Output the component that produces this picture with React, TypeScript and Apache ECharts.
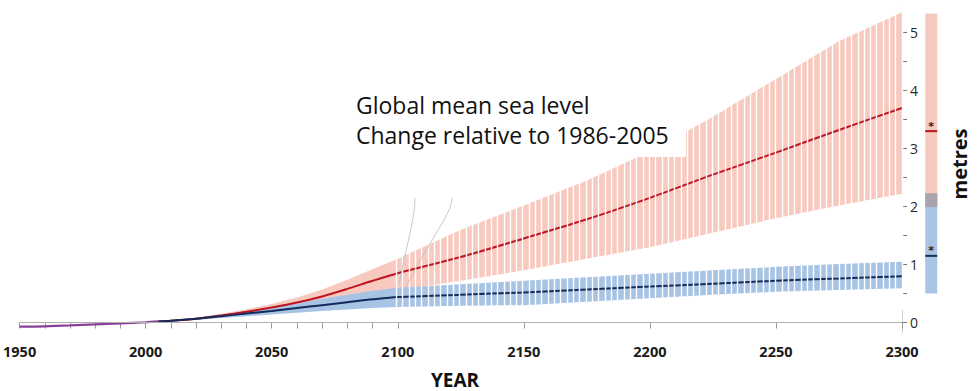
import React, { useEffect, useRef } from 'react';
import * as echarts from 'echarts';

// ---- data ----
const HIST_YEARS = [1950, 1960, 1970, 1980, 1990, 2000, 2005];
const HIST_VALUES = [-0.07, -0.065, -0.05, -0.03, -0.015, 0.005, 0.02];

const PROJ_YEARS = [2005, 2010, 2020, 2030, 2040, 2050, 2060, 2070, 2080, 2090, 2100, 2125, 2150, 2175, 2200, 2225, 2250, 2275, 2300];
const RCP85_MEDIAN = [0.02, 0.03, 0.065, 0.12, 0.185, 0.26, 0.345, 0.45, 0.58, 0.72, 0.85, 1.13, 1.45, 1.78, 2.15, 2.55, 2.93, 3.32, 3.7];
const RCP85_LOW = [0.01, 0.02, 0.05, 0.09, 0.13, 0.18, 0.23, 0.29, 0.36, 0.45, 0.55, 0.72, 0.9, 1.1, 1.3, 1.55, 1.8, 2.02, 2.22];
const RCP85_HIGH = [0.03, 0.045, 0.085, 0.15, 0.23, 0.32, 0.43, 0.57, 0.74, 0.92, 1.1, 1.6, 2.02, 2.45, 2.95, 3.55, 4.2, 4.85, 5.35];
const RCP26_MEDIAN = [0.02, 0.03, 0.065, 0.11, 0.155, 0.2, 0.25, 0.3, 0.35, 0.4, 0.44, 0.48, 0.52, 0.57, 0.62, 0.67, 0.72, 0.76, 0.8];
const RCP26_LOW = [0.01, 0.02, 0.045, 0.08, 0.11, 0.14, 0.17, 0.2, 0.225, 0.25, 0.27, 0.29, 0.3, 0.36, 0.42, 0.48, 0.53, 0.56, 0.59];
const RCP26_HIGH = [0.025, 0.04, 0.085, 0.14, 0.2, 0.26, 0.33, 0.41, 0.48, 0.55, 0.6, 0.66, 0.72, 0.78, 0.84, 0.9, 0.96, 1.01, 1.05];

// 2300 ranges shown in the side bar
const RCP26_RANGE_2300 = [0.5, 2.23];
const RCP26_MEDIAN_2300 = 1.15;
const RCP85_RANGE_2300 = [1.99, 5.33];
const RCP85_MEDIAN_2300 = 3.3;

// ticks / labels
const X_TICKS = [1950, 1960, 1970, 1980, 1990, 2000, 2010, 2020, 2030, 2040, 2050, 2060, 2070, 2080, 2090, 2100, 2150, 2200, 2250, 2300];
const X_LABELS = [1950, 2000, 2050, 2100, 2150, 2200, 2250, 2300];
const Y_TICKS = [0, 0.5, 1, 1.5, 2, 2.5, 3, 3.5, 4, 4.5, 5];
const Y_LABELS = [0, 1, 2, 3, 4, 5];

// ---- styling / layout constants ----
const RED_BAND = '#f8c9bf';
const BLUE_BAND = '#a8c4e5';
const OVERLAP = '#a9a3ae';
const RED_LINE = '#bd1420';
const BLUE_LINE = '#15295a';
const PURPLE = '#8b3f9a';
const SIDE_BAR_YEAR = 2311.6;
const FONT = '"Open Sans", "Noto Sans", sans-serif';

function bandSeries(name: string, lo: number[], hi: number[], color: string, z: number) {
  return {
    type: 'custom',
    name,
    xAxisIndex: 0,
    yAxisIndex: 0,
    z,
    clip: true,
    silent: true,
    data: PROJ_YEARS.map((y, i) => [y, lo[i], hi[i]]),
    renderItem: (params: any, api: any) => {
      if (params.dataIndex !== 0) return { type: 'group', children: [] };
      const top = PROJ_YEARS.map((y, i) => api.coord([y, hi[i]]));
      const bottom = PROJ_YEARS.map((y, i) => api.coord([y, lo[i]])).reverse();
      return {
        type: 'polygon',
        shape: { points: top.concat(bottom) },
        style: { fill: color },
      };
    },
  };
}

export default function App() {
  const ref = useRef<HTMLDivElement>(null);

  useEffect(() => {
    if (!ref.current) return;
    const chart = echarts.init(ref.current, null, { renderer: 'svg' });

    const option: any = {
      animation: false,
      grid: [
        { left: 17, right: 75, top: 7, bottom: 58 },
        { left: 396.3, right: 75, top: 7, bottom: 81 },
      ],
      xAxis: [
        {
          type: 'value',
          gridIndex: 0,
          min: 1950,
          max: 2300,
          axisLine: { show: true, lineStyle: { color: '#cfcfcf', width: 1 } },
          axisTick: { show: true, length: 6, customValues: X_TICKS, lineStyle: { color: '#9a9a9a' } },
          axisLabel: {
            customValues: X_LABELS,
            formatter: (v: number) => String(v),
            fontFamily: FONT,
            fontWeight: 'bold',
            fontSize: 14.5,
            color: '#1a1a1a',
            margin: 11,
          },
          splitLine: { show: false },
        },
        {
          type: 'value',
          gridIndex: 1,
          min: 2100,
          max: 2300,
          interval: 2.5,
          z: 10,
          axisLine: { show: false },
          axisTick: { show: false },
          axisLabel: { show: false },
          splitLine: { show: true, lineStyle: { color: '#ffffff', width: 1.4 } },
        },
      ],
      yAxis: [
        {
          type: 'value',
          gridIndex: 0,
          position: 'right',
          min: -0.18,
          max: 5.44,
          axisLine: { show: true, lineStyle: { color: '#cfcfcf', width: 1 } },
          axisTick: { show: true, length: 5, customValues: Y_TICKS, lineStyle: { color: '#777' } },
          axisLabel: {
            customValues: Y_LABELS,
            fontFamily: FONT,
            fontSize: 14,
            color: '#2a2a2a',
            margin: 8,
          },
          splitLine: { show: false },
        },
        { type: 'value', gridIndex: 1, min: 0, max: 1, show: false },
      ],
      series: [
        bandSeries('RCP8.5 range', RCP85_LOW, RCP85_HIGH, RED_BAND, 1),
        bandSeries('RCP2.6 range', RCP26_LOW, RCP26_HIGH, BLUE_BAND, 2),
        {
          type: 'line',
          name: 'RCP8.5',
          z: 3,
          symbol: 'none',
          smooth: 0.3,
          silent: true,
          data: PROJ_YEARS.map((y, i) => [y, RCP85_MEDIAN[i]]),
          lineStyle: { color: RED_LINE, width: 2 },
        },
        {
          type: 'line',
          name: 'RCP2.6',
          z: 3,
          symbol: 'none',
          smooth: 0.3,
          silent: true,
          data: PROJ_YEARS.map((y, i) => [y, RCP26_MEDIAN[i]]),
          lineStyle: { color: BLUE_LINE, width: 2 },
        },
        {
          type: 'line',
          name: 'Historical',
          z: 4,
          symbol: 'none',
          smooth: 0.3,
          silent: true,
          data: HIST_YEARS.map((y, i) => [y, HIST_VALUES[i]]),
          lineStyle: { color: PURPLE, width: 2.2 },
          markLine: {
            silent: true,
            symbol: 'none',
            label: { show: false },
            lineStyle: { color: '#b0b0b0', width: 1, type: 'solid' },
            data: [{ yAxis: 0 }],
          },
        },
        {
          type: 'custom',
          name: '2300 ranges',
          z: 5,
          clip: false,
          silent: true,
          data: [[SIDE_BAR_YEAR, 0]],
          renderItem: (params: any, api: any) => {
            if (params.dataIndex !== 0) return { type: 'group', children: [] };
            const cx = api.coord([SIDE_BAR_YEAR, 0])[0];
            const w = 12;
            const y = (v: number) => api.coord([SIDE_BAR_YEAR, v])[1];
            const rect = (lo: number, hi: number, fill: string) => ({
              type: 'rect',
              shape: { x: cx - w / 2, y: y(hi), width: w, height: y(lo) - y(hi) },
              style: { fill },
            });
            const med = (v: number, color: string) => ({
              type: 'line',
              shape: { x1: cx - w / 2, y1: y(v), x2: cx + w / 2, y2: y(v) },
              style: { stroke: color, lineWidth: 2 },
            });
            const star = (v: number) => ({
              type: 'text',
              style: {
                text: '*',
                x: cx,
                y: y(v) - 5,
                align: 'center',
                verticalAlign: 'middle',
                font: 'bold 11px "DejaVu Sans"',
                fill: '#222',
              },
            });
            return {
              type: 'group',
              children: [
                rect(RCP26_RANGE_2300[0], RCP26_RANGE_2300[1], BLUE_BAND),
                rect(RCP85_RANGE_2300[0], RCP85_RANGE_2300[1], RED_BAND),
                rect(RCP85_RANGE_2300[0], RCP26_RANGE_2300[1], OVERLAP),
                med(RCP85_MEDIAN_2300, RED_LINE),
                med(RCP26_MEDIAN_2300, BLUE_LINE),
                star(RCP85_MEDIAN_2300),
                star(RCP26_MEDIAN_2300),
              ],
            };
          },
        },
      ],
      graphic: [
        {
          type: 'rect',
          z: 100,
          silent: true,
          shape: { x: 345, y: 84, width: 341, height: 73 },
          style: { fill: '#ffffff' },
        },
        {
          type: 'bezierCurve',
          z: 101,
          silent: true,
          shape: { x1: 415, y1: 198, cpx1: 415, cpy1: 220, cpx2: 404, cpy2: 255, x2: 399, y2: 285 },
          style: { stroke: '#bbbbbb', lineWidth: 0.8, fill: 'none' },
        },
        {
          type: 'bezierCurve',
          z: 101,
          silent: true,
          shape: { x1: 452, y1: 198, cpx1: 452, cpy1: 215, cpx2: 425, cpy2: 245, x2: 404, y2: 292 },
          style: { stroke: '#bbbbbb', lineWidth: 0.8, fill: 'none' },
        },
        {
          type: 'text',
          z: 102,
          silent: true,
          x: 356,
          y: 90,
          style: {
            text: 'Global mean sea level\nChange relative to 1986-2005',
            font: '23px "Open Sans", "Noto Sans", sans-serif',
            lineHeight: 30,
            fill: '#111',
            verticalAlign: 'top',
          },
        },
        {
          type: 'text',
          z: 102,
          silent: true,
          x: 455,
          y: 379.5,
          style: {
            text: 'YEAR',
            font: 'bold 19px "Open Sans", "Noto Sans", sans-serif',
            fill: '#111',
            align: 'center',
            verticalAlign: 'middle',
          },
        },
        {
          type: 'text',
          z: 102,
          silent: true,
          x: 959,
          y: 164,
          rotation: Math.PI / 2,
          style: {
            text: 'metres',
            font: 'bold 20px "Open Sans", "Noto Sans", sans-serif',
            fill: '#111',
            align: 'center',
            verticalAlign: 'middle',
          },
        },
      ],
    };

    chart.setOption(option);
    return () => chart.dispose();
  }, []);

  return (
    <div
      ref={ref}
      style={{ position: 'fixed', left: 0, top: 0, width: 977, height: 391, background: '#fff' }}
    />
  );
}
